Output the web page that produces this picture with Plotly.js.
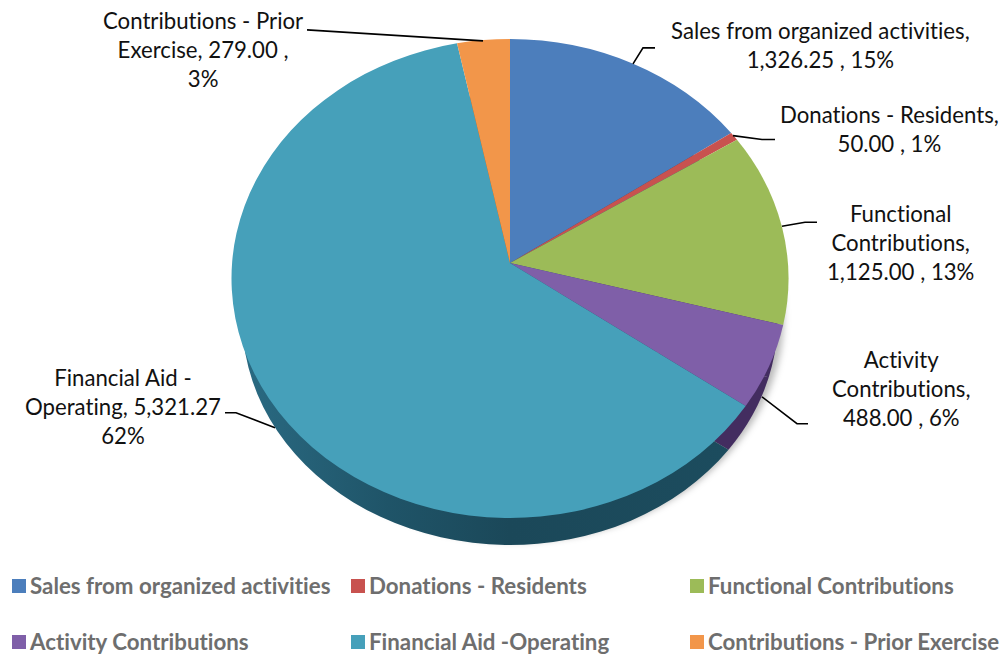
<!DOCTYPE html>
<html><head><meta charset="utf-8">
<script src="https://cdn.plot.ly/plotly-3.0.1.min.js"></script>
<style>html,body{margin:0;padding:0;background:#fff;overflow:hidden}#c{width:1005px;height:654px}text{font-variant-ligatures:none !important;font-feature-settings:"liga" 0,"clig" 0 !important}</style>
</head><body><div id="c"></div>
<script>
const W=1005,H=654;
const labels=["Sales from organized activities","Donations - Residents","Functional Contributions","Activity Contributions","Financial Aid -Operating","Contributions - Prior Exercise"];
const values=[1326.25,50,1125,488,5321.27,279];
const topColors=["#4c7ebc","#c8524f","#9cbb58","#7f5fa8","#46a0ba","#f2964a"];
const sideColors=["#2c4c73","#7a302e","#432d60","#432d60","#1f5266","#a85f22"];
const calloutText=["Sales from organized activities,<br>1,326.25 , 15%","Donations - Residents,<br>50.00 , 1%","Functional<br>Contributions,<br>1,125.00 , 13%","Activity<br>Contributions,<br>488.00 , 6%","Financial Aid -<br>Operating, 5,321.27<br>62%","Contributions - Prior<br>Exercise, 279.00 ,<br>3%"];
const calloutPos=[[820,45],[889,129],[900,243],[901,390],[123,408],[203,50]];
const leaders=[[[655,48],[643,48],[633,64]],[[775,140],[762,140],[733,136]],[[817,223],[805,223],[782,227]],[[808,425],[797,425],[762,398]],[[225,414],[236,414],[275,429]],[[307,30],[483,41]]];
const legendX=[12,351,690],legendY=[586,642];
const cx=510,topY=278.5,topRy=239.5,topRx=278.5,sideY=320.6,sideRy=226,sideRx=268.5,apexLift=15.5;
const px=x=>x/W,py=y=>1-y/H;
const dom=(yc,r)=>({x:[px(cx-r),px(cx+r)],y:[py(yc+r),py(yc-r)]});
const base={type:"pie",labels,values,sort:false,direction:"clockwise",rotation:0,textinfo:"none",hoverinfo:"label+value+percent"};
const data=[
 Object.assign({},base,{domain:dom(sideY,sideRy),showlegend:false,marker:{colors:sideColors,line:{width:0}}}),
 Object.assign({},base,{domain:dom(topY,topRy),marker:{colors:topColors,line:{width:0}}})
];
const layout={width:W,height:H,margin:{l:0,r:0,t:0,b:0},paper_bgcolor:"#fff",
 showlegend:true,
 legend:{orientation:"h",x:0,y:0.16,xanchor:"left",yanchor:"top",entrywidth:339,entrywidthmode:"pixels",traceorder:"normal",
  font:{family:"Lato",size:22.3,color:"#6e6e6e",weight:700}},
 annotations:calloutText.map((t,i)=>({text:t,x:px(calloutPos[i][0]),y:py(calloutPos[i][1]),xref:"paper",yref:"paper",xanchor:"center",yanchor:"middle",showarrow:false,align:"center",font:{family:"Lato",size:22.2,color:"#111"}})),
 shapes:leaders.map(l=>({type:"path",xref:"paper",yref:"paper",layer:"above",line:{color:"#000",width:1.6},
   path:l.map((p,i)=>(i?"L":"M")+px(p[0])+","+py(p[1])).join(" ")}))
};
Plotly.newPlot("c",data,layout,{displayModeBar:false,staticPlot:true}).then(()=>{
 const k=apexLift/topRy, q=Math.sqrt(1-k*k);
 // perspective of the drawn disc: rim points slide towards the viewer, the centre lifts
 const persp=(p)=>{const h=Math.hypot(p[0],p[1]),x=p[0]/h,y=p[1]/h,n=1-k*y;return [x*q/n*topRy,(y-k)/n*topRy];};
 const svg=document.querySelector("#c svg.main-svg");
 svg.querySelector("defs").insertAdjacentHTML("beforeend",'<linearGradient id="sideG" x1="0" y1="0" x2="1" y2="0"><stop offset="0" stop-color="#2a6a82"/><stop offset="0.3" stop-color="#1f5468"/><stop offset="0.55" stop-color="#1b4859"/><stop offset="1" stop-color="#1c4c5e"/></linearGradient>');
 document.querySelectorAll(".pielayer .trace").forEach((g,ti)=>{
  const yc=ti===0?sideY:topY, sx=ti===0?sideRx/sideRy:topRx/topRy;
  g.setAttribute("transform",`translate(${cx},${yc}) scale(${sx},1) translate(${-cx},${-yc})`);
  if(ti===0) g.style.filter="drop-shadow(5px -3px 3px rgba(0,0,0,0.28))";
  g.querySelectorAll("path.surface").forEach((p,si)=>{
    if(ti===0){ if(si===4) p.style.fill="url(#sideG)"; return; }
    const pt=p.__data__||p.parentNode.__data__;
    const a=persp(pt.px0),m=persp(pt.pxmid),b=persp(pt.px1);
    p.setAttribute("d",`M${cx},${yc-apexLift}L${cx+a[0]},${yc+a[1]}A${topRy},${topRy} 0 0 1 ${cx+m[0]},${yc+m[1]}A${topRy},${topRy} 0 0 1 ${cx+b[0]},${yc+b[1]}Z`);
  });
 });
 const leg=document.querySelector(".legend");
 leg.querySelectorAll(".scrollbox").forEach(s=>s.removeAttribute("clip-path"));
 leg.setAttribute("transform","translate(0,0)");
 leg.querySelectorAll(".bg").forEach(b=>{b.style.fillOpacity=0;b.style.strokeOpacity=0;});
 leg.querySelectorAll(".traces").forEach((t,i)=>{
  const col=i%3,row=Math.floor(i/3);
  t.setAttribute("transform",`translate(${legendX[col]},${legendY[row]})`);
  const txt=t.querySelector(".legendtext"); txt.setAttribute("x",18); txt.setAttribute("y",8);
  t.querySelectorAll(".legendpoints path").forEach(p=>{p.setAttribute("transform","translate(7,0)");p.setAttribute("d","M7,7H-7V-7H7Z");p.style.strokeWidth=0;});
 });
});
</script></body></html>
